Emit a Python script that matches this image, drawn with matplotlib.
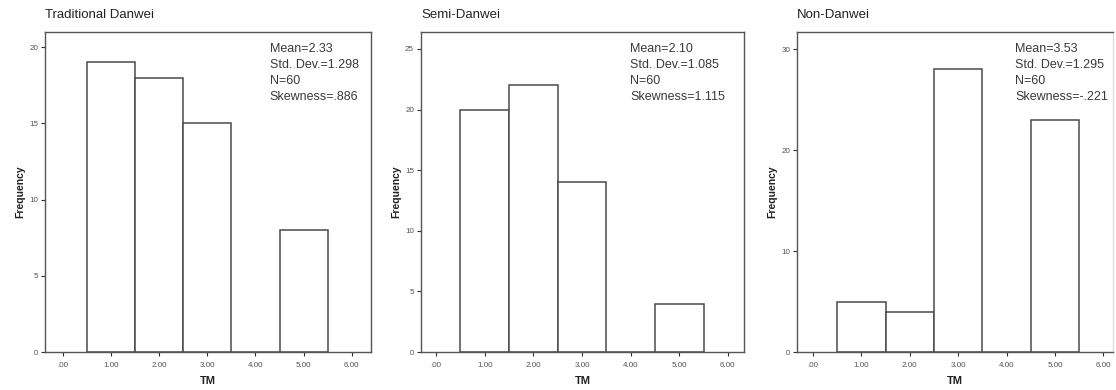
import matplotlib.pyplot as plt

plt.rcParams['font.family'] = ['Liberation Sans', 'DejaVu Sans']

scores = [1, 2, 3, 4, 5]
trad_counts = [19, 18, 15, 0, 8]
semi_counts = [20, 22, 14, 0, 4]
non_counts = [5, 4, 28, 0, 23]

titles = ["Traditional Danwei", "Semi-Danwei", "Non-Danwei"]
stats = [
    "Mean=2.33\nStd. Dev.=1.298\nN=60\nSkewness=.886",
    "Mean=2.10\nStd. Dev.=1.085\nN=60\nSkewness=1.115",
    "Mean=3.53\nStd. Dev.=1.295\nN=60\nSkewness=-.221",
]
xticks = [0, 1, 2, 3, 4, 5, 6]
xticklabels = [".00", "1.00", "2.00", "3.00", "4.00", "5.00", "6.00"]
yticks = [[0, 5, 10, 15, 20], [0, 5, 10, 15, 20, 25], [0, 10, 20, 30]]
ytop = [21.0, 26.4, 31.7]

# axes boxes in figure coords, and x ranges for each panel
boxes = [
    [0.0403, 0.0974, 0.2921, 0.8205],
    [0.3772, 0.0974, 0.2894, 0.8205],
    [0.7142, 0.0974, 0.2832, 0.8205],
]
xlims = [(-0.375, 6.4), (-0.31, 6.33), (-0.33, 6.2)]
stat_x = [0.69, 0.648, 0.69]

fig = plt.figure(figsize=(11.16, 3.9), dpi=100)
edge = '#4a4a4a'

for i, counts in enumerate([trad_counts, semi_counts, non_counts]):
    ax = fig.add_axes(boxes[i])
    ax.bar(scores, counts, width=1.0, color='white', edgecolor=edge, linewidth=1.1)
    ax.set_xlim(*xlims[i])
    ax.set_ylim(0, ytop[i])
    ax.set_xticks(xticks)
    ax.set_xticklabels(xticklabels)
    ax.set_yticks(yticks[i])
    ax.tick_params(axis='both', labelsize=5.8, labelcolor='#555555', color='#333333',
                   length=3, width=0.8, pad=2)
    ax.tick_params(axis='x', pad=4)
    for sp in ax.spines.values():
        sp.set_color('#555555')
        sp.set_linewidth(1.0)
    if i == 2:
        ax.spines['right'].set_color('#dddddd')
    ax.set_xlabel("TM", fontsize=8, fontweight='bold', labelpad=5, color='#222222')
    ax.set_ylabel("Frequency", fontsize=7.5, fontweight='bold', labelpad=3, color='#222222')
    ax.text(stat_x[i], 0.965, stats[i], transform=ax.transAxes, fontsize=9,
            va='top', ha='left', color='#3a3a3a', linespacing=1.42)
    fig.text(boxes[i][0], 0.945, titles[i], fontsize=9.5, color='#222222', ha='left', va='bottom')

plt.gcf().savefig('out.png', dpi=100)
